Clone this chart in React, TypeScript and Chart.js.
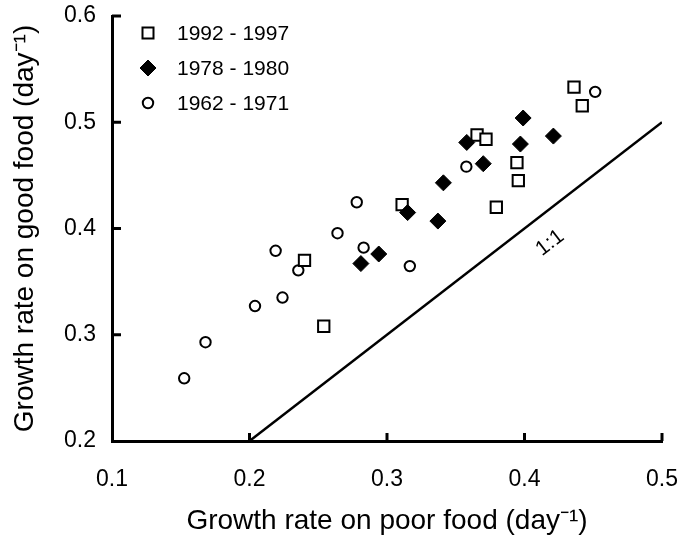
import { useEffect, useRef } from 'react';
import { Chart, registerables } from 'chart.js';

Chart.register(...registerables);

const FONT = "'Liberation Sans', Arial, Helvetica, sans-serif";

// Axis ticks
const xTicks = [0.1, 0.2, 0.3, 0.4, 0.5];
const yTicks = [0.2, 0.3, 0.4, 0.5, 0.6];

// Series labels
const seriesLabels = ['1992 - 1997', '1978 - 1980', '1962 - 1971'];

// 1992 - 1997 (open squares)
const p1992X = [0.240, 0.254, 0.311, 0.3655, 0.372, 0.3795, 0.3945, 0.3955, 0.436, 0.442];
const p1992Y = [0.370, 0.308, 0.4225, 0.488, 0.484, 0.420, 0.462, 0.445, 0.533, 0.5155];

// 1978 - 1980 (filled diamonds)
const p1978X = [0.281, 0.294, 0.315, 0.337, 0.341, 0.358, 0.370, 0.397, 0.399, 0.421];
const p1978Y = [0.367, 0.376, 0.415, 0.407, 0.443, 0.481, 0.461, 0.4795, 0.504, 0.487];

// 1962 - 1971 (open circles)
const p1962X = [0.1525, 0.168, 0.204, 0.219, 0.224, 0.2355, 0.264, 0.278, 0.283, 0.3166, 0.3577, 0.4514];
const p1962Y = [0.259, 0.293, 0.327, 0.379, 0.335, 0.3606, 0.3956, 0.4247, 0.382, 0.3646, 0.4582, 0.5286];

// 1:1 line
const identityX = [0.2, 0.5];
const identityY = [0.2, 0.5];
const identityLabel = '1:1';
const identityLabelAt = [0.4186, 0.3864];

const xTitle = 'Growth rate on poor food (day\u207B\u00B9)';
const yTitle = 'Growth rate on good food (day\u207B\u00B9)';

const zip = (xs: number[], ys: number[]) => xs.map((x, i) => ({ x, y: ys[i] }));

function drawMarker(ctx: CanvasRenderingContext2D, kind: number, x: number, y: number) {
  ctx.save();
  ctx.strokeStyle = '#000';
  ctx.fillStyle = '#000';
  if (kind === 0) {
    ctx.lineWidth = 2;
    ctx.fillStyle = '#fff';
    ctx.beginPath();
    ctx.rect(x - 5.5, y - 5.5, 11, 11);
    ctx.fill();
    ctx.stroke();
  } else if (kind === 1) {
    ctx.lineWidth = 1;
    ctx.beginPath();
    ctx.moveTo(x, y - 8);
    ctx.lineTo(x + 8, y);
    ctx.lineTo(x, y + 8);
    ctx.lineTo(x - 8, y);
    ctx.closePath();
    ctx.fill();
    ctx.stroke();
  } else {
    ctx.lineWidth = 2;
    ctx.fillStyle = '#fff';
    ctx.beginPath();
    ctx.arc(x, y, 5.2, 0, Math.PI * 2);
    ctx.fill();
    ctx.stroke();
  }
  ctx.restore();
}

const decorPlugin = {
  id: 'decor',
  afterDraw(chart: any) {
    const { ctx, chartArea, scales } = chart;
    const xs = scales.x;
    const ys = scales.y;
    ctx.save();
    ctx.strokeStyle = '#000';
    ctx.lineWidth = 3;
    // inward ticks
    yTicks.slice(1).forEach((v) => {
      const py = ys.getPixelForValue(v);
      ctx.beginPath();
      ctx.moveTo(chartArea.left, py);
      ctx.lineTo(chartArea.left + 9, py);
      ctx.stroke();
    });
    xTicks.slice(1).forEach((v) => {
      const px = xs.getPixelForValue(v);
      ctx.beginPath();
      ctx.moveTo(px, chartArea.bottom);
      ctx.lineTo(px, chartArea.bottom - 8);
      ctx.stroke();
    });
    // 1:1 label
    const ax = xs.getPixelForValue(identityX[0]);
    const ay = ys.getPixelForValue(identityY[0]);
    const bx = xs.getPixelForValue(identityX[1]);
    const by = ys.getPixelForValue(identityY[1]);
    const ang = Math.atan2(by - ay, bx - ax);
    ctx.save();
    ctx.translate(xs.getPixelForValue(identityLabelAt[0]), ys.getPixelForValue(identityLabelAt[1]));
    ctx.rotate(ang);
    ctx.fillStyle = '#000';
    ctx.font = `21px ${FONT}`;
    ctx.textAlign = 'center';
    ctx.textBaseline = 'middle';
    ctx.fillText(identityLabel, 0, 0);
    ctx.restore();
    // legend
    ctx.fillStyle = '#000';
    ctx.font = `21px ${FONT}`;
    ctx.textAlign = 'left';
    ctx.textBaseline = 'middle';
    seriesLabels.forEach((lab, i) => {
      const y = chartArea.top + 17 + i * 35;
      drawMarker(ctx, i, chartArea.left + 36, y);
      ctx.fillText(lab, chartArea.left + 65, y + 1);
    });
    ctx.restore();
  },
};

const zeroPad = (s: any) => {
  s.paddingLeft = 0;
  s.paddingRight = 0;
  s.paddingTop = 0;
  s.paddingBottom = 0;
};

export default function App() {
  const ref = useRef<HTMLCanvasElement>(null);
  useEffect(() => {
    const chart = new Chart(ref.current as HTMLCanvasElement, {
      type: 'scatter',
      data: {
        datasets: [
          {
            type: 'line',
            label: identityLabel,
            data: zip(identityX, identityY),
            borderColor: '#000',
            borderWidth: 2.5,
            pointRadius: 0,
            fill: false,
          } as any,
          {
            label: seriesLabels[1],
            data: zip(p1978X, p1978Y),
            pointStyle: 'rectRot',
            pointRadius: 8,
            pointHoverRadius: 8,
            backgroundColor: '#000',
            borderColor: '#000',
            borderWidth: 1,
          },
          {
            label: seriesLabels[0],
            data: zip(p1992X, p1992Y),
            pointStyle: 'rect',
            pointRadius: 8,
            pointHoverRadius: 8,
            backgroundColor: '#fff',
            borderColor: '#000',
            borderWidth: 2,
          },
          {
            label: seriesLabels[2],
            data: zip(p1962X, p1962Y),
            pointStyle: 'circle',
            pointRadius: 5.2,
            pointHoverRadius: 5.2,
            backgroundColor: '#fff',
            borderColor: '#000',
            borderWidth: 2,
          },
        ],
      },
      options: {
        responsive: false,
        animation: false,
        events: [],
        layout: { padding: { left: 0, right: 19, top: 16, bottom: 0 } },
        plugins: {
          legend: { display: false },
          tooltip: { enabled: false },
        },
        scales: {
          x: {
            type: 'linear',
            min: 0.1,
            max: 0.5,
            afterBuildTicks: (s: any) => {
              s.ticks = xTicks.map((v) => ({ value: v }));
            },
            afterFit: (s: any) => {
              s.height = 105;
              zeroPad(s);
            },
            grid: { display: false, drawTicks: false },
            border: { display: true, width: 3, color: '#000' },
            ticks: {
              color: '#000',
              padding: 25,
              maxRotation: 0,
              font: { family: FONT, size: 23 },
              callback: (v: any) => Number(v).toFixed(1),
            },
            title: {
              display: true,
              text: xTitle,
              color: '#000',
              font: { family: FONT, size: 28 },
              padding: { top: 0, bottom: 8 },
            },
          },
          y: {
            type: 'linear',
            min: 0.2,
            max: 0.6,
            afterBuildTicks: (s: any) => {
              s.ticks = yTicks.map((v) => ({ value: v }));
            },
            afterFit: (s: any) => {
              s.width = 112;
              zeroPad(s);
            },
            grid: { display: false, drawTicks: false },
            border: { display: true, width: 3, color: '#000' },
            ticks: {
              color: '#000',
              padding: 16,
              font: { family: FONT, size: 23 },
              callback: (v: any) => Number(v).toFixed(1),
            },
            title: {
              display: true,
              text: yTitle,
              color: '#000',
              font: { family: FONT, size: 28 },
              padding: { top: 8, bottom: 0 },
            },
          },
        },
      },
      plugins: [decorPlugin],
    });
    return () => chart.destroy();
  }, []);
  return (
    <div style={{ position: 'absolute', left: 0, top: 0, width: 681, height: 546, background: '#fff' }}>
      <canvas ref={ref} width={681} height={546} style={{ display: 'block' }} />
    </div>
  );
}
